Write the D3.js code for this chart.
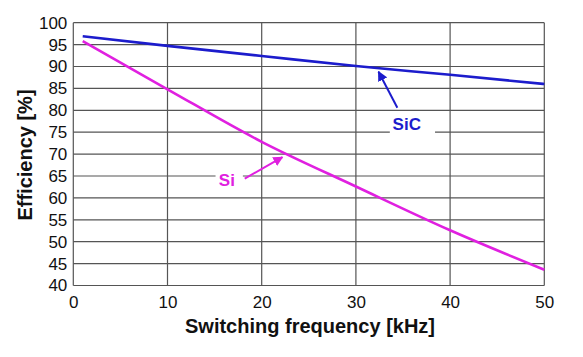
<!DOCTYPE html>
<html><head><meta charset="utf-8">
<script src="https://cdn.jsdelivr.net/npm/d3@7"></script>
<style>body{margin:0;background:#fff}svg{display:block}text{font-family:"Liberation Sans",Arial,sans-serif}</style>
</head><body><svg id="c" width="583" height="357"></svg>
<script>
const xTicks = [0,10,20,30,40,50];
const yTicks = [40,45,50,55,60,65,70,75,80,85,90,95,100];
const freq = [1,10,20,30,40,50];
const sic = [96.9,94.7,92.4,90.1,88.1,86.0];
const si = [95.8,84.8,72.8,62.6,52.6,43.6];
const labels = ["SiC","Si"];

const svg = d3.select("#c");
const x = d3.scaleLinear().domain([0,50]).range([73.3,544.3]);
const y = d3.scaleLinear().domain([40,100]).range([285.5,22.7]);

const g = svg.append("g");
g.selectAll(".hg").data(yTicks).join("line")
  .attr("x1",x(0)).attr("x2",x(50)).attr("y1",d=>y(d)).attr("y2",d=>y(d))
  .attr("stroke","#555").attr("stroke-width",1.2);
g.selectAll(".vg").data(xTicks).join("line")
  .attr("y1",y(40)).attr("y2",y(100)).attr("x1",d=>x(d)).attr("x2",d=>x(d))
  .attr("stroke","#555").attr("stroke-width",1.2);

const xa = svg.append("g").attr("transform",`translate(0,${y(40)})`)
  .call(d3.axisBottom(x).tickValues(xTicks).tickSize(0).tickPadding(10));
xa.select(".domain").remove();
xa.selectAll("text").attr("font-size",17).attr("fill","#111").attr("font-family","Liberation Sans, Arial, sans-serif");
const ya = svg.append("g").attr("transform",`translate(${x(0)},0)`)
  .call(d3.axisLeft(y).tickValues(yTicks).tickSize(0).tickPadding(6));
ya.select(".domain").remove();
ya.selectAll("text").attr("font-size",17).attr("fill","#111").attr("font-family","Liberation Sans, Arial, sans-serif");

svg.append("text").attr("x",310).attr("y",333).attr("text-anchor","middle")
  .attr("font-size",20).attr("font-weight","bold").attr("fill","#111").text("Switching frequency [kHz]");
svg.append("text").attr("transform","translate(32,155) rotate(-90)").attr("text-anchor","middle")
  .attr("font-size",20).attr("font-weight","bold").attr("fill","#111").text("Efficiency [%]");

const line = d3.line().x((d,i)=>x(freq[i])).y(d=>y(d)).curve(d3.curveMonotoneX);
const blue="#1c1ccc", mag="#e020e0";
svg.append("path").attr("d",line(sic)).attr("fill","none").attr("stroke",blue).attr("stroke-width",2.6);
svg.append("path").attr("d",line(si)).attr("fill","none").attr("stroke",mag).attr("stroke-width",2.6);

const defs = svg.append("defs");
[["ab",blue],["am",mag]].forEach(([id,c])=>{
  defs.append("marker").attr("id",id).attr("viewBox","0 0 10 10").attr("refX",9).attr("refY",5)
   .attr("markerWidth",5).attr("markerHeight",5).attr("orient","auto")
   .append("path").attr("d","M0,0L10,5L0,10z").attr("fill",c);
});

// SiC annotation
svg.append("rect").attr("x",x(33.6)).attr("y",y(77.2)).attr("width",x(38.4)-x(33.6)).attr("height",y(74)-y(77.2)).attr("fill","#fff");
svg.append("text").attr("x",x(35.4)).attr("y",y(75.6)).attr("text-anchor","middle").attr("font-size",17).attr("font-weight","bold").attr("fill",blue).text(labels[0]);
svg.append("line").attr("x1",x(34.4)).attr("y1",y(80.6)).attr("x2",x(32.4)).attr("y2",y(88.8))
  .attr("stroke",blue).attr("stroke-width",2).attr("marker-end","url(#ab)");

// Si annotation
svg.append("rect").attr("x",x(15.1)).attr("y",y(66.7)).attr("width",x(18)-x(15.1)).attr("height",y(62.2)-y(66.7)).attr("fill","#fff");
svg.append("text").attr("x",x(16.3)).attr("y",y(62.8)).attr("text-anchor","middle").attr("font-size",17).attr("font-weight","bold").attr("fill",mag).text(labels[1]);
svg.append("line").attr("x1",x(18.2)).attr("y1",y(64.4)).attr("x2",x(22.2)).attr("y2",y(69.3))
  .attr("stroke",mag).attr("stroke-width",2).attr("marker-end","url(#am)");
</script></body></html>
